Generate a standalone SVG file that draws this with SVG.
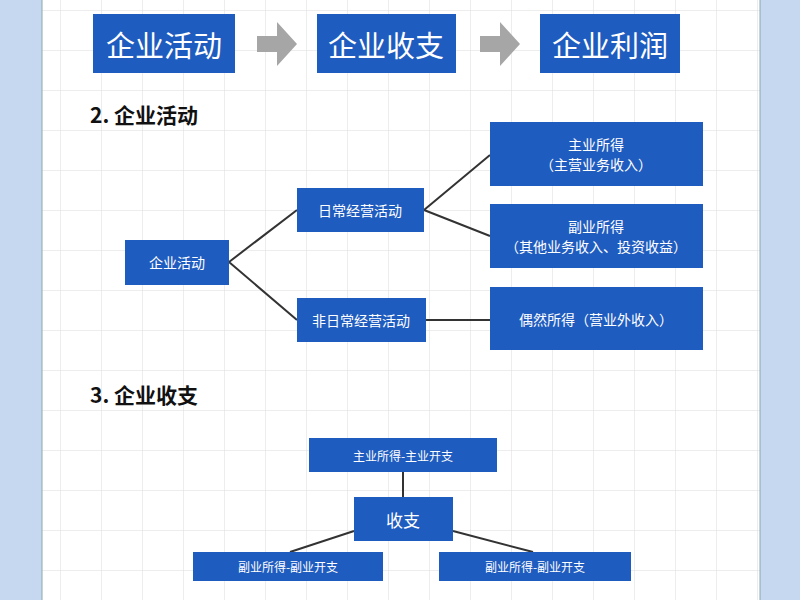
<svg xmlns="http://www.w3.org/2000/svg" width="800" height="600" viewBox="0 0 800 600">
<defs>
<pattern id="grid" x="19" y="10" width="41" height="40" patternUnits="userSpaceOnUse">
<path d="M0 0H41M0 0V40" fill="none" stroke="#dcdcdc" stroke-width="1"/>
</pattern>
<style>
.b{fill:#1f5cbf}
.t{fill:#fff;font-family:"Noto Sans CJK SC","Noto Sans",sans-serif;text-anchor:middle;dominant-baseline:central}
.h{fill:#111;font-family:"Noto Sans CJK SC","Noto Sans",sans-serif;font-weight:bold;font-size:21px}
.l{stroke:#333;stroke-width:2;fill:none}
</style>
</defs>
<rect width="800" height="600" fill="#fff"/>
<rect x="42" width="718" height="600" fill="url(#grid)"/>
<rect width="42" height="600" fill="#c5d8f0"/>
<rect x="760" width="40" height="600" fill="#c5d8f0"/>
<line x1="42" y1="0" x2="42" y2="600" stroke="#8aa" stroke-width="1"/>
<line x1="760" y1="0" x2="760" y2="600" stroke="#8aa" stroke-width="1"/>
<g id="top1"><rect class="b" x="93" y="14" width="142" height="59"/><text class="t" x="164" y="44" font-size="29">企业活动</text></g>
<g id="top2"><rect class="b" x="317" y="14" width="139" height="59"/><text class="t" x="386" y="44" font-size="29">企业收支</text></g>
<g id="top3"><rect class="b" x="540" y="14" width="140" height="59"/><text class="t" x="610" y="44" font-size="29">企业利润</text></g>
<g id="arrows" fill="#a6a6a6">
<polygon points="257,36 277,36 277,22 297,44 277,66 277,52 257,52"/>
<polygon points="480,36 500,36 500,22 520,44 500,66 500,52 480,52"/>
</g>
<text class="h" x="90" y="123">2. 企业活动</text>
<text class="h" x="90" y="403">3. 企业收支</text>
<g id="connectors">
<path class="l" d="M229 262L297 210M229 262L297 320M424 210L490 155M424 210L490 236M426 320L490 320"/>
<path class="l" d="M403 472V497M354 531L290 552M453 531L533 552"/>
</g>
<g id="n1"><rect class="b" x="125" y="240" width="104" height="45"/><text class="t" x="177" y="262" font-size="14">企业活动</text></g>
<g id="n2"><rect class="b" x="297" y="188" width="127" height="44"/><text class="t" x="360" y="210" font-size="14">日常经营活动</text></g>
<g id="n3"><rect class="b" x="297" y="298" width="129" height="44"/><text class="t" x="361" y="320" font-size="14">非日常经营活动</text></g>
<g id="n4"><rect class="b" x="490" y="122" width="213" height="64"/><text class="t" x="596" y="144" font-size="14">主业所得</text><text class="t" x="596" y="164" font-size="14">（主营业务收入）</text></g>
<g id="n5"><rect class="b" x="490" y="204" width="213" height="64"/><text class="t" x="596" y="226" font-size="14">副业所得</text><text class="t" x="596" y="246" font-size="14">（其他业务收入、投资收益）</text></g>
<g id="n6"><rect class="b" x="490" y="287" width="213" height="63"/><text class="t" x="596" y="319" font-size="14">偶然所得（营业外收入）</text></g>
<g id="m1"><rect class="b" x="309" y="438" width="188" height="34"/><text class="t" x="403" y="455" font-size="12">主业所得-主业开支</text></g>
<g id="m2"><rect class="b" x="354" y="497" width="99" height="44"/><text class="t" x="403" y="519" font-size="17">收支</text></g>
<g id="m3"><rect class="b" x="193" y="552" width="190" height="29"/><text class="t" x="288" y="566" font-size="12">副业所得-副业开支</text></g>
<g id="m4"><rect class="b" x="439" y="552" width="192" height="29"/><text class="t" x="535" y="566" font-size="12">副业所得-副业开支</text></g>
</svg>
